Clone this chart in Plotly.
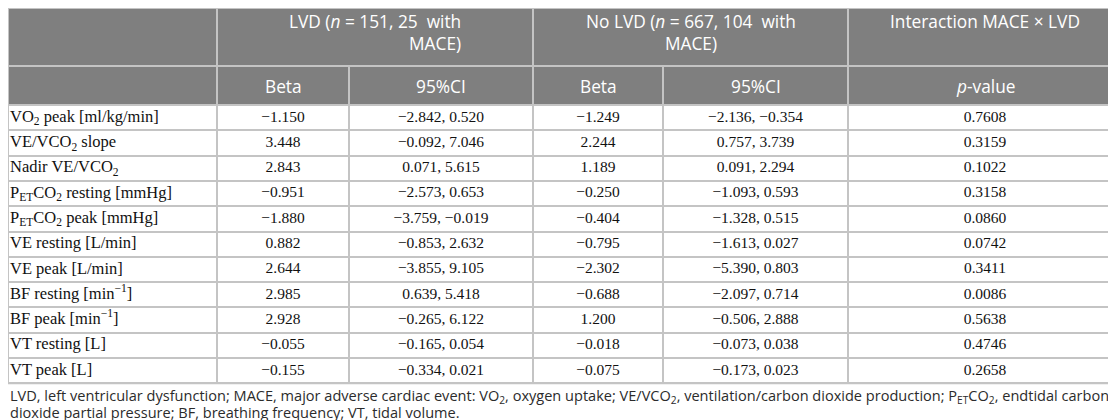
import plotly.graph_objects as go

# table data
labels = [
    "VO<sub>2</sub> peak [ml/kg/min]",
    "VE/VCO<sub>2</sub> slope",
    "Nadir VE/VCO<sub>2</sub>",
    "P<sub>ET</sub>CO<sub>2</sub> resting [mmHg]",
    "P<sub>ET</sub>CO<sub>2</sub> peak [mmHg]",
    "VE resting [L/min]",
    "VE peak [L/min]",
    "BF resting [min<sup>−1</sup>]",
    "BF peak [min<sup>−1</sup>]",
    "VT resting [L]",
    "VT peak [L]",
]
lvd_beta = [-1.150, 3.448, 2.843, -0.951, -1.880, 0.882, 2.644, 2.985, 2.928, -0.055, -0.155]
lvd_lo = [-2.842, -0.092, 0.071, -2.573, -3.759, -0.853, -3.855, 0.639, -0.265, -0.165, -0.334]
lvd_hi = [0.520, 7.046, 5.615, 0.653, -0.019, 2.632, 9.105, 5.418, 6.122, 0.054, 0.021]
nolvd_beta = [-1.249, 2.244, 1.189, -0.250, -0.404, -0.795, -2.302, -0.688, 1.200, -0.018, -0.075]
nolvd_lo = [-2.136, 0.757, 0.091, -1.093, -1.328, -1.613, -5.390, -2.097, -0.506, -0.073, -0.173]
nolvd_hi = [-0.354, 3.739, 2.294, 0.593, 0.515, 0.027, 0.803, 0.714, 2.888, 0.038, 0.023]
p_inter = [0.7608, 0.3159, 0.1022, 0.3158, 0.0860, 0.0742, 0.3411, 0.0086, 0.5638, 0.4746, 0.2658]

group_headers = ["", "LVD (<i>n</i> = 151, 25  with<br>MACE)",
                 "No LVD (<i>n</i> = 667, 104  with<br>MACE)", "Interaction MACE × LVD"]
group_align = ["center", "right", "center", "center"]
sub_headers = ["", "Beta", "95%CI", "Beta", "95%CI", "<i>p</i>-value"]

footnote = [
    "LVD, left ventricular dysfunction; MACE, major adverse cardiac event: VO<sub>2</sub>, oxygen uptake; "
    "VE/VCO<sub>2</sub>, ventilation/carbon dioxide production; P<sub>ET</sub>CO<sub>2</sub>, endtidal carbon",
    "dioxide partial pressure; BF, breathing frequency; VT, tidal volume.",
]


def fmt(v, d=3):
    return f"{v:.{d}f}".replace("-", "−")


columns = [
    [fmt(v) for v in lvd_beta],
    [fmt(a) + ", " + fmt(b) for a, b in zip(lvd_lo, lvd_hi)],
    [fmt(v) for v in nolvd_beta],
    [fmt(a) + ", " + fmt(b) for a, b in zip(nolvd_lo, nolvd_hi)],
    [fmt(v, 4) for v in p_inter],
]

# layout (pixel units on the axes)
W, H = 1116, 420
col_w = [209, 132, 184, 130, 185, 274]
col_edges = [0]
for w in col_w:
    col_edges.append(col_edges[-1] + w)
grp_edges = [col_edges[0], col_edges[1], col_edges[3], col_edges[5], col_edges[6]]
top_h, sub_h, row_h = 58, 39, 25.3
body_top = top_h + sub_h
row_edges = [body_top + row_h * i for i in range(len(labels) + 1)]
row_mid = [(a + b) / 2 for a, b in zip(row_edges[:-1], row_edges[1:])]
col_mid = [(a + b) / 2 for a, b in zip(col_edges[:-1], col_edges[1:])]
grp_mid = [(a + b) / 2 for a, b in zip(grp_edges[:-1], grp_edges[1:])]
table_bottom = row_edges[-1]

HEAD_FILL = "#7f7f7f"
LINE = "#c4c4c4"
HEAD_FONT = dict(family="Open Sans", size=17.3, color="white")
LABEL_FONT = dict(family="Liberation Serif", size=16.5, color="#111111")
NUM_FONT = dict(family="Liberation Serif", size=15.5, color="#111111")


def brick(x, y, color):
    return go.Heatmap(
        x=x, y=y, z=[[0] * (len(x) - 1) for _ in range(len(y) - 1)],
        colorscale=[[0, color], [1, color]], showscale=False,
        xgap=2, ygap=2, hoverinfo="skip",
    )


fig = go.Figure()
fig.add_trace(brick(grp_edges, [0, top_h], HEAD_FILL))
fig.add_trace(brick(col_edges, [top_h, body_top], HEAD_FILL))
fig.add_trace(brick(col_edges, row_edges, "white"))

# row labels
fig.add_trace(go.Scatter(
    x=[col_edges[0] + 2] * len(labels), y=row_mid, text=labels,
    mode="text", textposition="middle right", textfont=LABEL_FONT,
    hoverinfo="skip",
))
# numeric columns
for j, vals in enumerate(columns, start=1):
    fig.add_trace(go.Scatter(
        x=[col_mid[j]] * len(vals), y=row_mid, text=vals,
        mode="text", textposition="middle center", textfont=NUM_FONT,
        hoverinfo="skip",
    ))

# header texts
for xm, txt, al in zip(grp_mid, group_headers, group_align):
    if txt:
        fig.add_annotation(x=xm, y=0, text=txt, xanchor="center", yanchor="top",
                           align=al, showarrow=False, font=HEAD_FONT)
for xm, txt in zip(col_mid, sub_headers):
    if txt:
        fig.add_annotation(x=xm, y=body_top - 19, text=txt, xanchor="center",
                           yanchor="middle", showarrow=False, font=HEAD_FONT)

# footnote
for i, line in enumerate(footnote):
    fig.add_annotation(
        x=0, y=table_bottom + 13 + 16 * i, text=line, xanchor="left", yanchor="middle",
        align="left", showarrow=False,
        font=dict(family="Open Sans", size=14.55, color="#2b2b2b"),
    )

# grid line colour behind the bricks
fig.add_shape(type="rect", x0=-1, x1=col_edges[-1] + 1, y0=-1, y1=table_bottom + 1,
              fillcolor=LINE, line_width=0, layer="below")

fig.update_xaxes(range=[0, W], visible=False, fixedrange=True)
fig.update_yaxes(range=[H, 0], visible=False, fixedrange=True)
fig.update_layout(width=W, height=H, margin=dict(l=0, r=0, t=0, b=0),
                  paper_bgcolor="white", plot_bgcolor="white", showlegend=False)

fig.write_html("out.html")
